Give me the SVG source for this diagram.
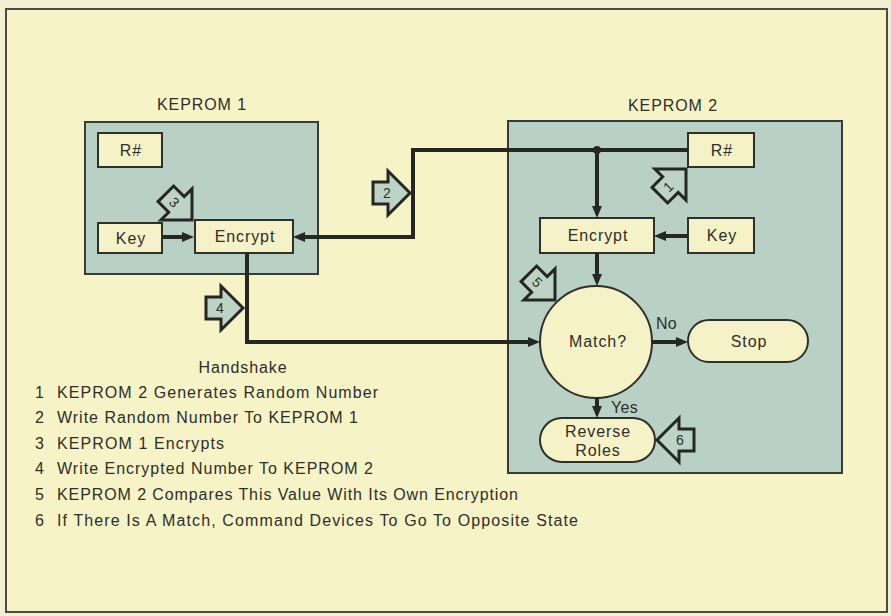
<svg xmlns="http://www.w3.org/2000/svg" xmlns:xlink="http://www.w3.org/1999/xlink" width="891" height="616" viewBox="0 0 891 616">
  <style>
    text { font-family: "Liberation Sans", Arial, Helvetica, sans-serif; fill: #2e2e2a; font-size: 16px; letter-spacing: 0.9px; }
    .mid { text-anchor: middle; }
    .leg { letter-spacing: 0; }
    .panel { fill: #b9d0c4; stroke: #3a3a36; stroke-width: 2; }
    .box { fill: #f6f2c8; stroke: #2f2f2b; stroke-width: 2; }
    .conn { fill: none; stroke: #262624; stroke-width: 4; stroke-linejoin: miter; }
    .badge { fill: #bcd3c6; stroke: #262624; stroke-width: 3; stroke-linejoin: miter; }
    .bnum { font-size: 14px; letter-spacing: 0; text-anchor: middle; }
  </style>
  <defs>
    <marker id="ah" markerUnits="userSpaceOnUse" markerWidth="12" markerHeight="10" viewBox="0 0 12 10" refX="4" refY="5" orient="auto">
      <path d="M0,0 L12,5 L0,10 Z" fill="#262624"/>
    </marker>
    <path id="badge" d="M0,0 L-22,-22 L-22,-11 L-37,-11 L-37,11 L-22,11 L-22,22 Z"/>
  </defs>

  <!-- background and frame -->
  <rect x="0" y="0" width="891" height="616" fill="#f2efd2"/>
  <rect x="6" y="9" width="881" height="603" fill="#f6f3c7" stroke="#4a4a46" stroke-width="2"/>

  <!-- panels -->
  <g id="kepromA">
    <rect class="panel" x="85" y="122" width="233" height="152"/>
    <text class="mid" x="202" y="110">KEPROM 1</text>
  </g>
  <g id="kepromB">
    <rect class="panel" x="508" y="121" width="334" height="352"/>
    <text class="mid" x="673" y="111">KEPROM 2</text>
  </g>

  <!-- KEPROM 1 nodes -->
  <g id="r1">
    <rect class="box" x="98" y="133" width="64" height="34"/>
    <text class="mid" x="131" y="156">R#</text>
  </g>
  <g id="key1">
    <rect class="box" x="98" y="223" width="64" height="30"/>
    <text class="mid" x="131" y="244">Key</text>
  </g>
  <g id="enc1">
    <rect class="box" x="195" y="220" width="98" height="33"/>
    <text class="mid" x="245" y="242">Encrypt</text>
  </g>

  <!-- KEPROM 2 nodes -->
  <g id="r2">
    <rect class="box" x="688" y="133" width="66" height="34"/>
    <text class="mid" x="722" y="156">R#</text>
  </g>
  <g id="enc2">
    <rect class="box" x="540" y="218" width="114" height="35"/>
    <text class="mid" x="598" y="241">Encrypt</text>
  </g>
  <g id="key2">
    <rect class="box" x="688" y="218" width="66" height="35"/>
    <text class="mid" x="722" y="241">Key</text>
  </g>
  <g id="match">
    <circle class="box" cx="596" cy="342" r="56"/>
    <text class="mid" x="598" y="347">Match?</text>
  </g>
  <g id="stop">
    <rect class="box" x="688" y="320" width="120" height="42" rx="21" ry="21"/>
    <text class="mid" x="749" y="347">Stop</text>
  </g>
  <g id="reverse">
    <rect class="box" x="540" y="418" width="115" height="44" rx="22" ry="22"/>
    <text class="mid" x="598" y="437">Reverse</text>
    <text class="mid" x="598" y="456">Roles</text>
  </g>

  <!-- connectors -->
  <g id="connectors">
    <path class="conn" d="M163,237 H186" marker-end="url(#ah)"/>
    <path class="conn" d="M688,150 H413 V237 H301" marker-end="url(#ah)"/>
    <path class="conn" d="M597,150 V210" marker-end="url(#ah)"/>
    <circle cx="597" cy="150" r="4" fill="#262624"/>
    <path class="conn" d="M688,236 H662" marker-end="url(#ah)"/>
    <path class="conn" d="M597,253 V278" marker-end="url(#ah)"/>
    <path class="conn" d="M247,253 V342 H532" marker-end="url(#ah)"/>
    <path class="conn" d="M652,342 H680" marker-end="url(#ah)"/>
    <path class="conn" d="M597,398 V410" marker-end="url(#ah)"/>
    <text x="656" y="329" style="letter-spacing:0.3px">No</text>
    <text x="611" y="413" style="letter-spacing:0.3px">Yes</text>
  </g>

  <!-- step badges -->
  <g id="step1" transform="translate(686,169) rotate(-45)">
    <use xlink:href="#badge" class="badge"/>
    <text class="bnum" x="-25" y="5">1</text>
  </g>
  <g id="step2" transform="translate(410,193)">
    <use xlink:href="#badge" class="badge"/>
    <text class="bnum" x="-23" y="5">2</text>
  </g>
  <g id="step3" transform="translate(192,220) rotate(45)">
    <use xlink:href="#badge" class="badge"/>
    <text class="bnum" x="-25" y="5">3</text>
  </g>
  <g id="step4" transform="translate(243,308)">
    <use xlink:href="#badge" class="badge"/>
    <text class="bnum" x="-23" y="5">4</text>
  </g>
  <g id="step5" transform="translate(555,300) rotate(45)">
    <use xlink:href="#badge" class="badge"/>
    <text class="bnum" x="-25" y="5">5</text>
  </g>
  <g id="step6">
    <use xlink:href="#badge" class="badge" transform="translate(657,440) rotate(180)"/>
    <text class="bnum" x="680" y="445">6</text>
  </g>

  <!-- legend -->
  <g id="legend">
    <text class="mid" x="243" y="373">Handshake</text>
    <text class="leg" x="35" y="398">1</text><text class="leg" x="57" y="398" textLength="321" lengthAdjust="spacing">KEPROM 2 Generates Random Number</text>
    <text class="leg" x="35" y="423">2</text><text class="leg" x="57" y="423" textLength="301" lengthAdjust="spacing">Write Random Number To KEPROM 1</text>
    <text class="leg" x="35" y="449">3</text><text class="leg" x="57" y="449" textLength="167" lengthAdjust="spacing">KEPROM 1 Encrypts</text>
    <text class="leg" x="35" y="474">4</text><text class="leg" x="57" y="474" textLength="316" lengthAdjust="spacing">Write Encrypted Number To KEPROM 2</text>
    <text class="leg" x="35" y="500">5</text><text class="leg" x="57" y="500" textLength="461" lengthAdjust="spacing">KEPROM 2 Compares This Value With Its Own Encryption</text>
    <text class="leg" x="35" y="526">6</text><text class="leg" x="57" y="526" textLength="521" lengthAdjust="spacing">If There Is A Match, Command Devices To Go To Opposite State</text>
  </g>
</svg>
